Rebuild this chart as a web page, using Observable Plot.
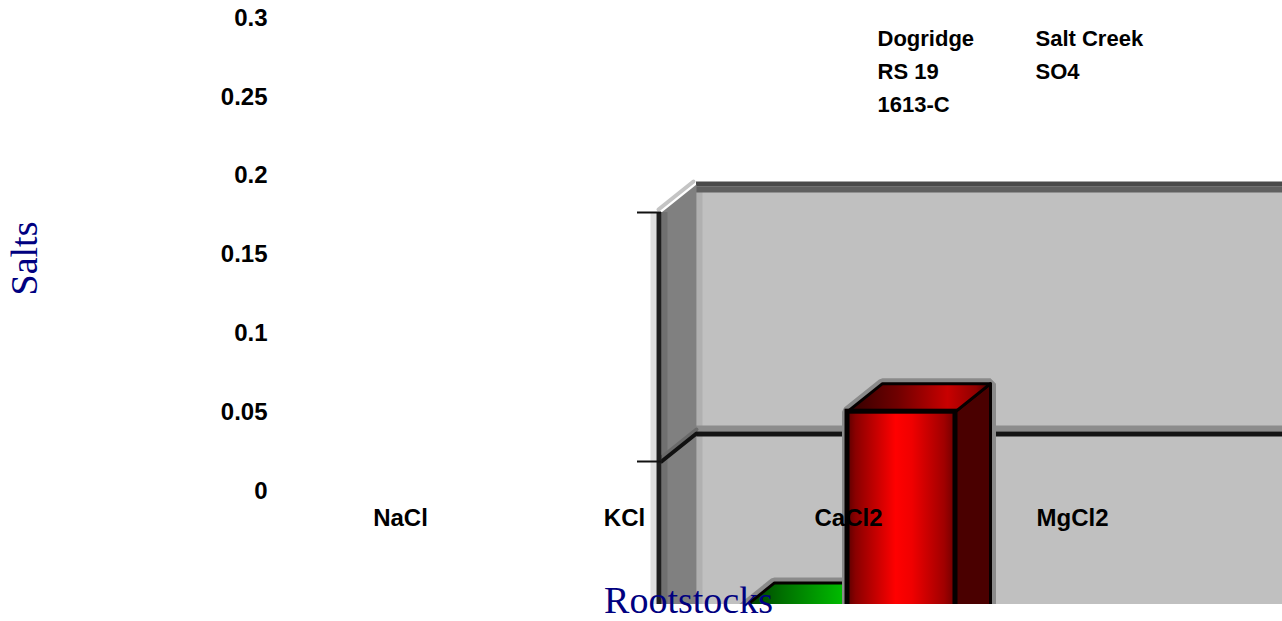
<!DOCTYPE html>
<html>
<head>
<meta charset="utf-8">
<script src="https://cdn.jsdelivr.net/npm/d3@7"></script>
<script src="https://cdn.jsdelivr.net/npm/@observablehq/plot@0.6"></script>
<style>
  body { margin: 0; background: #fff; }
  #chart { position: relative; width: 1282px; height: 621px; overflow: hidden; }
  #chart svg { position: absolute; left: 0; top: 0; }
</style>
</head>
<body>
<div id="chart"></div>
<script>
// ---------------- data ----------------
const categories = ["NaCl", "KCl", "CaCl2", "MgCl2"];
const series = ["Dogridge", "RS 19", "1613-C", "Salt Creek", "SO4"];
const yTicks = [0, 0.05, 0.1, 0.15, 0.2, 0.25, 0.3];
const yTickLabels = ["0", "0.05", "0.1", "0.15", "0.2", "0.25", "0.3"];
// bars visible inside the (zoomed) 3-D plot area
const barCategory = ["CaCl2", "CaCl2"];
const barSeries = ["Dogridge", "RS 19"];
const barValues = [0.02, 0.06];
const innerTicks = [0.05, 0.1];
const xTitle = "Rootstocks";
const yTitle = "Salts";

// ---------------- layout / style ----------------
const W = 1282, H = 621;
const sans = "'Liberation Sans', Arial, Helvetica, sans-serif";
const serif = "'Liberation Serif', 'Times New Roman', Times, serif";
const navy = "#000080";
const labelSize = 24, legendSize = 22, titleSize = 38;

// inner 3-D plot scales
const xDom = [1.5, 2], xRng = [661, 847];
const yDom = [0.05, 0.1], yRng = [461, 212];
const kx = (xRng[1] - xRng[0]) / (xDom[1] - xDom[0]);
const ky = (yRng[0] - yRng[1]) / (yDom[1] - yDom[0]);
const DEPTH_X = 35, DEPTH_Y = 28;
const ddx = DEPTH_X / kx, ddy = DEPTH_Y / ky;
const xL = xDom[0], xR = 4, yTop = 0.1, yBot = 0;
const bw = 108 / kx;

const palette = {
  "Dogridge": {front: "url(#gFront)", top: "url(#gTop)", side: "#004000"},
  "RS 19": {front: "url(#rFront)", top: "url(#rTop)", side: "#4a0000"}
};

function defsMark() {
  const defs = d3.create("svg:defs");
  const grad = (id, stops) => {
    const g = defs.append("linearGradient").attr("id", id)
      .attr("x1", 0).attr("y1", 0).attr("x2", 1).attr("y2", 0);
    stops.forEach(([o, c]) => g.append("stop").attr("offset", o).attr("stop-color", c));
  };
  grad("rFront", [[0, "#5a0000"], [0.08, "#8a0000"], [0.45, "#ff0000"], [0.6, "#f00000"], [0.9, "#a00000"], [1, "#700000"]]);
  grad("rTop", [[0, "#300000"], [0.35, "#700000"], [0.7, "#c80000"], [0.9, "#900000"], [1, "#400000"]]);
  grad("gFront", [[0, "#003000"], [0.5, "#00c000"], [1, "#006000"]]);
  grad("gTop", [[0, "#003000"], [0.3, "#007000"], [0.75, "#00c000"], [1, "#00b000"]]);
  return defs.node();
}

const poly = (pts) => [...pts, pts[0]].map(([x, y]) => ({x, y}));

const inner = [defsMark];
// back wall
inner.push(Plot.rect([0], {x1: () => xL, x2: () => xR, y1: () => yBot, y2: () => yTop, dx: DEPTH_X, dy: -DEPTH_Y, fill: "#c0c0c0", clip: true}));
inner.push(Plot.ruleX([xL], {y1: () => yBot, y2: () => yTop, dx: DEPTH_X + 3, dy: -DEPTH_Y + 6, stroke: "#b0b0b0", strokeWidth: 6, clip: true}));
inner.push(Plot.ruleY([yTop], {x1: () => xL, x2: () => xR, dx: DEPTH_X, dy: -28.5, stroke: "#4a4a4a", strokeWidth: 5, clip: true}));
inner.push(Plot.ruleY([yTop], {x1: () => xL, x2: () => xR, dx: DEPTH_X, dy: -23, stroke: "#606060", strokeWidth: 6, clip: true}));
// back-wall gridline
inner.push(Plot.ruleY(innerTicks.slice(0, 1), {x1: () => xL, x2: () => xR, dx: DEPTH_X - 6, dy: -33, stroke: "#8c8c8c", strokeWidth: 6, clip: true}));
inner.push(Plot.ruleY(innerTicks.slice(0, 1), {x1: () => xL, x2: () => xR, dx: DEPTH_X - 6, dy: -27.5, stroke: "#141414", strokeWidth: 5, clip: true}));
// side wall
inner.push(Plot.line(poly([[xL, yBot], [xL, yTop], [xL + ddx, yTop + ddy], [xL + ddx, yBot]]), {x: "x", y: "y", fill: "#808080", stroke: "none", clip: true}));
inner.push(Plot.ruleX([xL], {y1: () => yBot, y2: () => yTop, dx: 3, stroke: "#707070", strokeWidth: 6, clip: true}));
inner.push(Plot.line([{x: xL, y: innerTicks[0]}, {x: xL + ddx, y: innerTicks[0] + ddy}], {x: "x", y: "y", stroke: "#6a6a6a", strokeWidth: 4, dy: -4, clip: true}));
inner.push(Plot.line([{x: xL, y: innerTicks[0]}, {x: xL + ddx, y: innerTicks[0] + ddy}], {x: "x", y: "y", stroke: "#111", strokeWidth: 4, clip: true}));
// front edge of the box
inner.push(Plot.ruleX([xL], {y1: () => yBot, y2: () => yTop, dx: -8, insetTop: 3, stroke: "#e0e0e0", strokeWidth: 6, clip: true}));
inner.push(Plot.line([{x: xL, y: yTop}, {x: xL + ddx, y: yTop + ddy}], {x: "x", y: "y", stroke: "#c4c4c4", strokeWidth: 4, dx: -3, dy: -3, clip: true}));
inner.push(Plot.ruleX([xL], {y1: () => yBot, y2: () => yTop, dx: -2.5, insetTop: -4, stroke: "#1e1e1e", strokeWidth: 5, clip: true}));
// tick marks
inner.push(Plot.ruleY(innerTicks, {x1: () => xL, x2: () => xL, insetLeft: -24, stroke: "#111", strokeWidth: 2, clip: true}));

// bars
const nInGroup = barValues.length;
barValues.forEach((v, j) => {
  const ci = categories.indexOf(barCategory[j]);
  const x1 = ci + (j - nInGroup / 2) * bw, x2 = x1 + bw;
  const c = palette[barSeries[j]];
  const sil = poly([[x1, yBot], [x1, v], [x1 + ddx, v + ddy], [x2 + ddx, v + ddy], [x2 + ddx, yBot]]);
  inner.push(Plot.line(sil, {x: "x", y: "y", fill: "#7a7a7a", stroke: "#8a8a8a", strokeWidth: 11, strokeLinejoin: "miter", clip: true}));
  inner.push(Plot.line(poly([[x2, yBot], [x2, v], [x2 + ddx, v + ddy], [x2 + ddx, yBot]]), {x: "x", y: "y", fill: c.side, stroke: "#050000", strokeWidth: 3, clip: true}));
  inner.push(Plot.line(poly([[x1, v], [x2, v], [x2 + ddx, v + ddy], [x1 + ddx, v + ddy]]), {x: "x", y: "y", fill: c.top, stroke: "#050000", strokeWidth: 3, clip: true}));
  inner.push(Plot.rect([v], {x1: () => x1, x2: () => x2, y1: () => yBot, y2: d => d, fill: c.front, stroke: "#050000", strokeWidth: 5, clip: true}));
});

const innerPlot = Plot.plot({
  width: W, height: H,
  marginTop: 0, marginLeft: 0, marginRight: 0, marginBottom: 17,
  x: {type: "linear", domain: xDom, range: xRng, axis: null},
  y: {type: "linear", domain: yDom, range: yRng, axis: null},
  style: {background: "white"},
  marks: inner
});

// ---------------- outer labels ----------------
const outer = [
  Plot.text(yTicks, {y: d => d, text: (d, i) => yTickLabels[i], frameAnchor: "left", dx: 267, textAnchor: "end", lineAnchor: "middle",
    fontSize: labelSize, fontWeight: "bold", fontFamily: sans, fill: "black"}),
  Plot.text(categories, {x: (d, i) => i, text: d => d, frameAnchor: "top", dy: 518, textAnchor: "middle", lineAnchor: "middle",
    fontSize: labelSize, fontWeight: "bold", fontFamily: sans, fill: "black"}),
  Plot.text([yTitle], {frameAnchor: "top-left", dx: 24, dy: 258, rotate: -90, textAnchor: "middle", lineAnchor: "middle",
    fontSize: titleSize, fontFamily: serif, fill: navy}),
  Plot.text([xTitle], {frameAnchor: "top-left", dx: 688, dy: 600, textAnchor: "middle", lineAnchor: "middle",
    fontSize: titleSize, fontFamily: serif, fill: navy})
];
series.forEach((s, i) => {
  const col = Math.floor(i / 3), row = i % 3;
  outer.push(Plot.text([s], {frameAnchor: "top-left", dx: 877 + col * 158, dy: 38 + row * 33, textAnchor: "start", lineAnchor: "middle",
    fontSize: legendSize, fontWeight: "bold", fontFamily: sans, fill: "black"}));
});

const outerPlot = Plot.plot({
  width: W, height: H, margin: 0,
  x: {type: "linear", domain: [0, 3], range: [400, 1072], axis: null},
  y: {type: "linear", domain: [0, 0.3], range: [490.5, 17.5], axis: null},
  style: {background: "transparent"},
  marks: outer
});

const el = document.getElementById("chart");
el.appendChild(innerPlot);
el.appendChild(outerPlot);
</script>
</body>
</html>
